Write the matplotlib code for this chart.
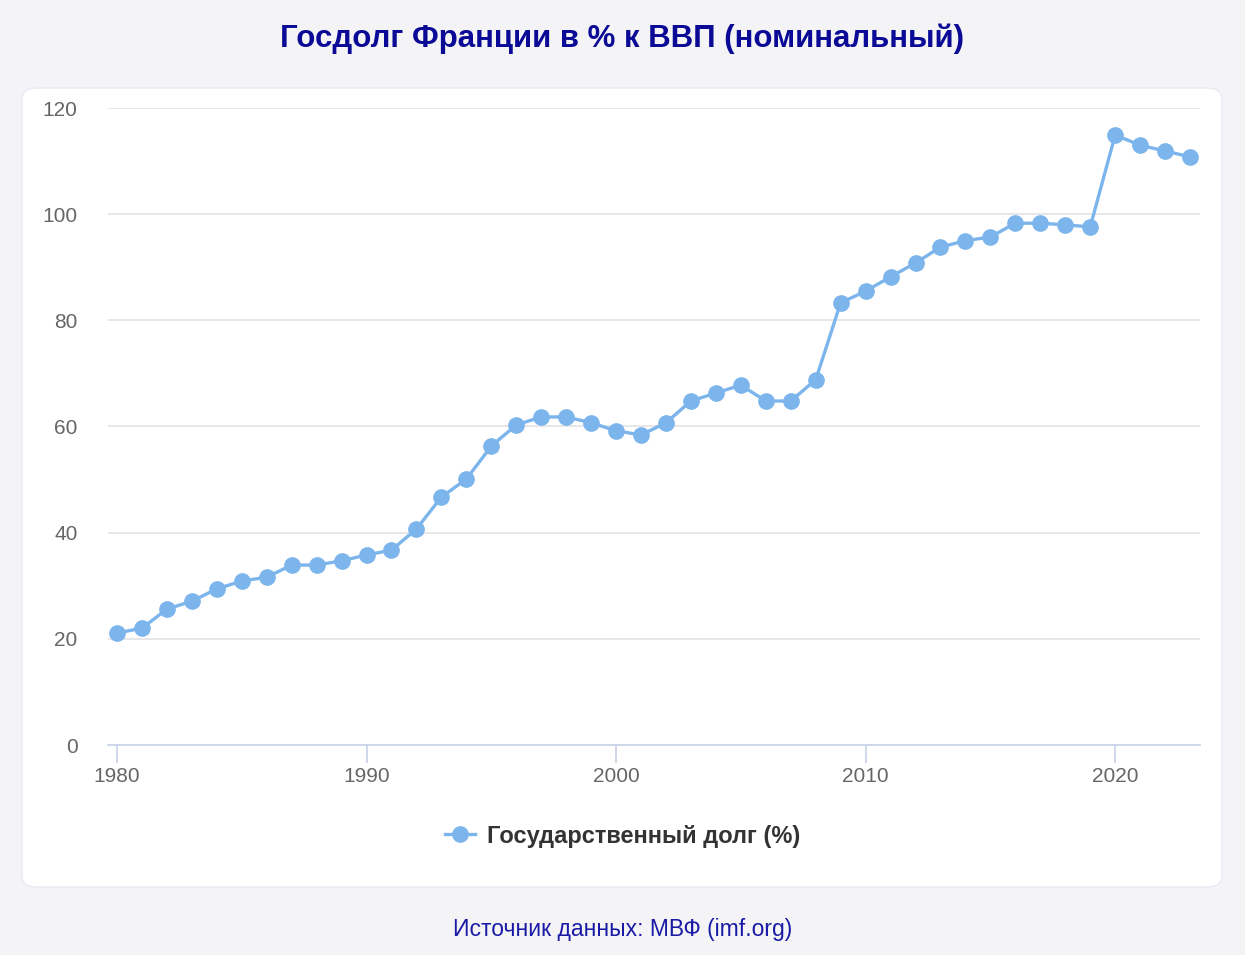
import matplotlib.pyplot as plt
from matplotlib.patches import FancyBboxPatch

years = list(range(1980, 2024))
debt = [21.1, 22.0, 25.6, 27.1, 29.4, 30.9, 31.6, 33.9, 33.9, 34.7,
        35.8, 36.7, 40.7, 46.7, 50.1, 56.3, 60.3, 61.8, 61.8, 60.7,
        59.2, 58.4, 60.7, 64.8, 66.3, 67.8, 64.8, 64.8, 68.8, 83.3,
        85.5, 88.2, 90.8, 93.8, 95.0, 95.7, 98.3, 98.3, 98.0, 97.6,
        114.9, 113.0, 111.9, 110.8]
x_ticks = [1980, 1990, 2000, 2010, 2020]
y_ticks = [0, 20, 40, 60, 80, 100, 120]

plt.rcParams['font.family'] = ['Liberation Sans', 'DejaVu Sans']

W, H = 1245, 955
fig = plt.figure(figsize=(W / 100, H / 100), dpi=100)
fig.patch.set_facecolor('#f4f4f6')

# white card behind the chart
card = FancyBboxPatch((22 / W, (H - 887) / H), 1200 / W, 799 / H,
                      boxstyle="round,pad=0,rounding_size=0.012",
                      transform=fig.transFigure, facecolor='white',
                      edgecolor='#e8ebf2', linewidth=1, zorder=-5)
fig.patches.append(card)

ax = fig.add_axes([108 / W, (H - 745) / H, (1200 - 108) / W, (745 - 108) / H])
ax.set_zorder(2)
ax.set_facecolor('none')
ax.plot(years, debt, color='#7cb5ec', linewidth=2.4, marker='o',
        markersize=11, label='Государственный долг (%)', clip_on=False, zorder=3)

ax.set_xlim(1979.64, 2023.4)
ax.set_ylim(0, 120)
ax.set_xticks(x_ticks)
ax.set_yticks(y_ticks)
ax.grid(axis='y', color='#e3e3e3', linewidth=1.2)
ax.set_axisbelow(True)
for s in ['top', 'right', 'left']:
    ax.spines[s].set_visible(False)
ax.spines['bottom'].set_color('#ccd6eb')
ax.spines['bottom'].set_linewidth(1.3)
ax.tick_params(axis='x', colors='#ccd6eb', length=13, width=1.3, labelcolor='#666666',
               labelsize=15, pad=3)
ax.tick_params(axis='y', length=0, labelcolor='#666666', labelsize=15, pad=22)

fig.text(0.5, (H - 39) / H, 'Госдолг Франции в % к ВВП (номинальный)',
         ha='center', va='center', fontsize=22.5, fontweight='bold', color='#0a0a96')
fig.legend(loc='center', bbox_to_anchor=(0.5, (H - 836) / H), frameon=False,
           prop={'size': 17, 'weight': 'bold'}, labelcolor='#333333',
           handlelength=1.3, handletextpad=0.5)
fig.text(0.5, (H - 929) / H, 'Источник данных: МВФ (imf.org)',
         ha='center', va='center', fontsize=16.5, color='#1a1aa6')

fig.savefig('out.png', dpi=100, facecolor=fig.get_facecolor())
